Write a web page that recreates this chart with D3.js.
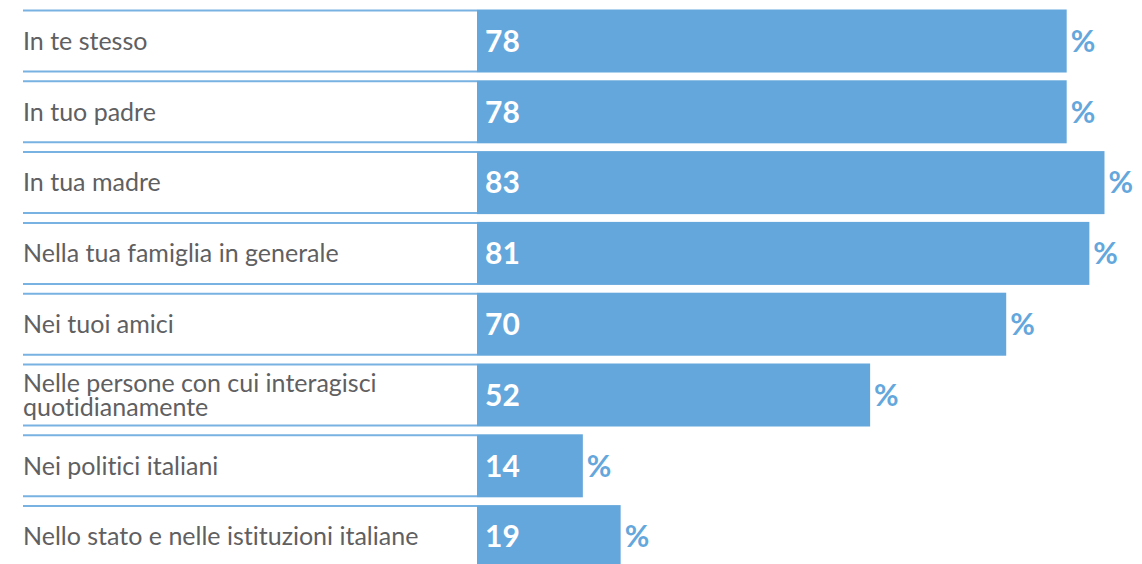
<!DOCTYPE html>
<html>
<head>
<meta charset="utf-8">
<script src="https://cdn.jsdelivr.net/npm/d3@7"></script>
<style>
    body { margin: 0; background: #ffffff; }
    svg { display: block; }
    text { font-variant-ligatures: none; }
</style>
</head>
<body>
<svg id="svg"></svg>
<script>
// Data
const categories = [
    ["In te stesso"],
    ["In tuo padre"],
    ["In tua madre"],
    ["Nella tua famiglia in generale"],
    ["Nei tuoi amici"],
    ["Nelle persone con cui interagisci", "quotidianamente"],
    ["Nei politici italiani"],
    ["Nello stato e nelle istituzioni italiane"]
];
const values = [78, 78, 83, 81, 70, 52, 14, 19];

// SVG Dimensions
let width = 1142, height = 564;
const barColor = "#64a7dc";
const lineColor = "#78b2e2";
const step = 70.8, pad = 0.11;

const svg = d3.select("#svg")
    .attr("width", width)
    .attr("height", height);

// Scales
const x = d3.scaleLinear().domain([0, 100]).range([477, 1233]);
const y = d3.scaleBand()
    .domain(d3.range(values.length))
    .range([9.5, 9.5 + step * (values.length - pad)])
    .paddingInner(pad)
    .paddingOuter(0);

const rows = svg.selectAll("g.row")
    .data(values)
    .enter()
    .append("g")
    .attr("class", "row")
    .attr("transform", (d, i) => "translate(0," + y(i) + ")");

// lines above and below each label
rows.append("line")
    .attr("x1", 23).attr("x2", x(0))
    .attr("y1", 1).attr("y2", 1)
    .attr("stroke", lineColor)
    .attr("stroke-width", 2);

rows.append("line")
    .attr("x1", 23).attr("x2", x(0))
    .attr("y1", y.bandwidth() - 1).attr("y2", y.bandwidth() - 1)
    .attr("stroke", lineColor)
    .attr("stroke-width", 2);

rows.append("rect")
    .attr("x", x(0))
    .attr("y", 0)
    .attr("width", (d) => x(d) - x(0))
    .attr("height", y.bandwidth())
    .attr("fill", barColor);

// labels
rows.append("text")
    .attr("x", 23)
    .attr("fill", "#5f6062")
    .style("font-family", "Lato, sans-serif")
    .style("font-size", "25px")
    .each(function (d, i) {
        const lines = categories[i];
        const mid = y.bandwidth() / 2;
        const start = mid - (lines.length - 1) * 11.75;
        d3.select(this).selectAll("tspan")
            .data(lines)
            .enter()
            .append("tspan")
            .attr("x", 23)
            .attr("y", (t, j) => start + j * 23.5)
            .attr("dy", "0.35em")
            .text((t) => t);
    });

// values inside bars
rows.append("text")
    .attr("x", x(0) + 8)
    .attr("y", y.bandwidth() / 2)
    .attr("dy", "0.36em")
    .attr("fill", "#ffffff")
    .style("font-family", "Lato, sans-serif")
    .style("font-weight", "bold")
    .style("font-size", "30px")
    .text((d) => d);

// percent signs
rows.append("text")
    .attr("x", (d) => x(d) + 4)
    .attr("y", y.bandwidth() / 2)
    .attr("dy", "0.36em")
    .attr("fill", barColor)
    .style("font-family", "Lato, sans-serif")
    .style("font-weight", "bold")
    .style("font-size", "30px")
    .text("%");
</script>
</body>
</html>
